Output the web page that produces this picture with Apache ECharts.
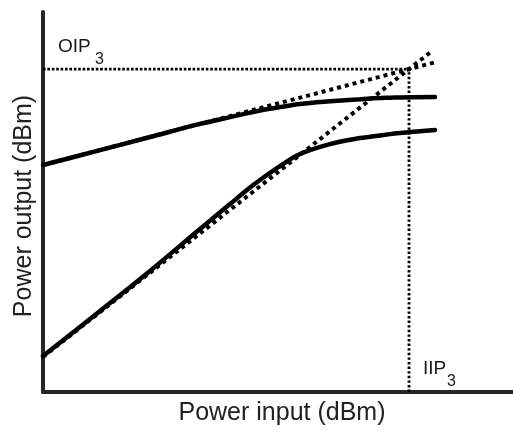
<!DOCTYPE html>
<html>
<head>
<meta charset="utf-8">
<title>Third-order intercept point</title>
<script src="https://cdn.jsdelivr.net/npm/echarts@6/dist/echarts.min.js"></script>
<style>
  html, body { margin: 0; padding: 0; background: #fff; }
  #chart { width: 513px; height: 430px; }
</style>
</head>
<body>
<div id="chart"></div>
<script>
// Input power sweep (dBm) shared by both measured curves
const pin = [-40, -34.3, -29.3, -24.3, -21.3, -19.3, -18.3, -16.3, -14.3, -11.3, -8.3, -7.3, -5.3, -4.3, -0.8];

// Fundamental output (dBm): linear gain, then compression
const fundamentalOut = [-23.4, -17.7, -12.7, -7.7, -5.1, -3.4, -2.6, -1.3, -0.1, 0.9, 1.7, 2.0, 2.3, 2.4, 2.6];

// Third-order intermodulation output (dBm)
const im3Out = [-96.3, -79.1, -63.8, -47.8, -38.3, -32.0, -29.1, -23.8, -19.2, -15.4, -13.1, -12.6, -11.6, -11.2, -10.0];

// Small-signal extrapolations: slope 1 (fundamental) and slope 3 (IM3)
const fundamentalLine = [[-40, -23.4], [-0.8, 15.8]];
const im3Line = [[-40, -96.6], [-1.1, 20.1]];

// Intercept point
const iip3 = -3.4;
const oip3 = 13.2;

// Axis extents
const xRange = [-40, 7];
const yRange = [-110, 35];

const zip = (xs, ys) => xs.map((x, i) => [x, ys[i]]);

const chart = echarts.init(document.getElementById('chart'), null, { renderer: 'canvas' });

const font = '"Liberation Sans", Arial, Helvetica, sans-serif';
const ink = '#000';
const axisInk = '#262626';

const dotted = (data, width, dash) => ({
  type: 'line',
  data: data,
  showSymbol: false,
  symbol: 'none',
  silent: true,
  lineStyle: { color: ink, width: width, type: dash, cap: 'butt' },
  z: 2
});

const solid = (data) => ({
  type: 'line',
  data: data,
  smooth: 0.35,
  showSymbol: false,
  symbol: 'none',
  silent: true,
  lineStyle: { color: ink, width: 4.5, cap: 'round' },
  z: 3
});

const label = (text, x, y, size) => ({
  type: 'text',
  x: x,
  y: y,
  silent: true,
  style: { text: text, fontFamily: font, fontSize: size, fill: '#1a1a1a', align: 'left', verticalAlign: 'middle' }
});

chart.setOption({
  animation: false,
  backgroundColor: '#fff',
  grid: { left: 43, right: 0, top: 12, bottom: 38, containLabel: false },
  xAxis: {
    type: 'value',
    min: xRange[0],
    max: xRange[1],
    axisLine: { show: true, onZero: false, lineStyle: { color: axisInk, width: 4 } },
    axisTick: { show: false },
    axisLabel: { show: false },
    splitLine: { show: false }
  },
  yAxis: {
    type: 'value',
    min: yRange[0],
    max: yRange[1],
    axisLine: { show: true, onZero: false, lineStyle: { color: axisInk, width: 4 } },
    axisTick: { show: false },
    axisLabel: { show: false },
    splitLine: { show: false }
  },
  graphic: [
    // Axis titles
    {
      type: 'text', x: 282, y: 413, silent: true,
      style: { text: 'Power input (dBm)', fontFamily: font, fontSize: 25, fill: '#222', align: 'center', verticalAlign: 'middle' }
    },
    {
      type: 'text', x: 24, y: 206, rotation: Math.PI / 2, silent: true,
      style: { text: 'Power output (dBm)', fontFamily: font, fontSize: 25, fill: '#222', align: 'center', verticalAlign: 'middle' }
    },
    // Intercept annotations with subscripts
    label('OIP', 58, 47, 19),
    label('3', 95, 60, 16),
    label('IIP', 423, 369, 19),
    label('3', 447, 382, 16)
  ],
  series: [
    dotted([[xRange[0], oip3], [iip3, oip3]], 2.8, [2.6, 1.8]),
    dotted([[iip3, yRange[0]], [iip3, oip3]], 2.8, [2.4, 2.2]),
    dotted(fundamentalLine, 4, [4, 4]),
    dotted(im3Line, 4, [4, 4]),
    solid(zip(pin, fundamentalOut)),
    solid(zip(pin, im3Out))
  ]
});
</script>
</body>
</html>
